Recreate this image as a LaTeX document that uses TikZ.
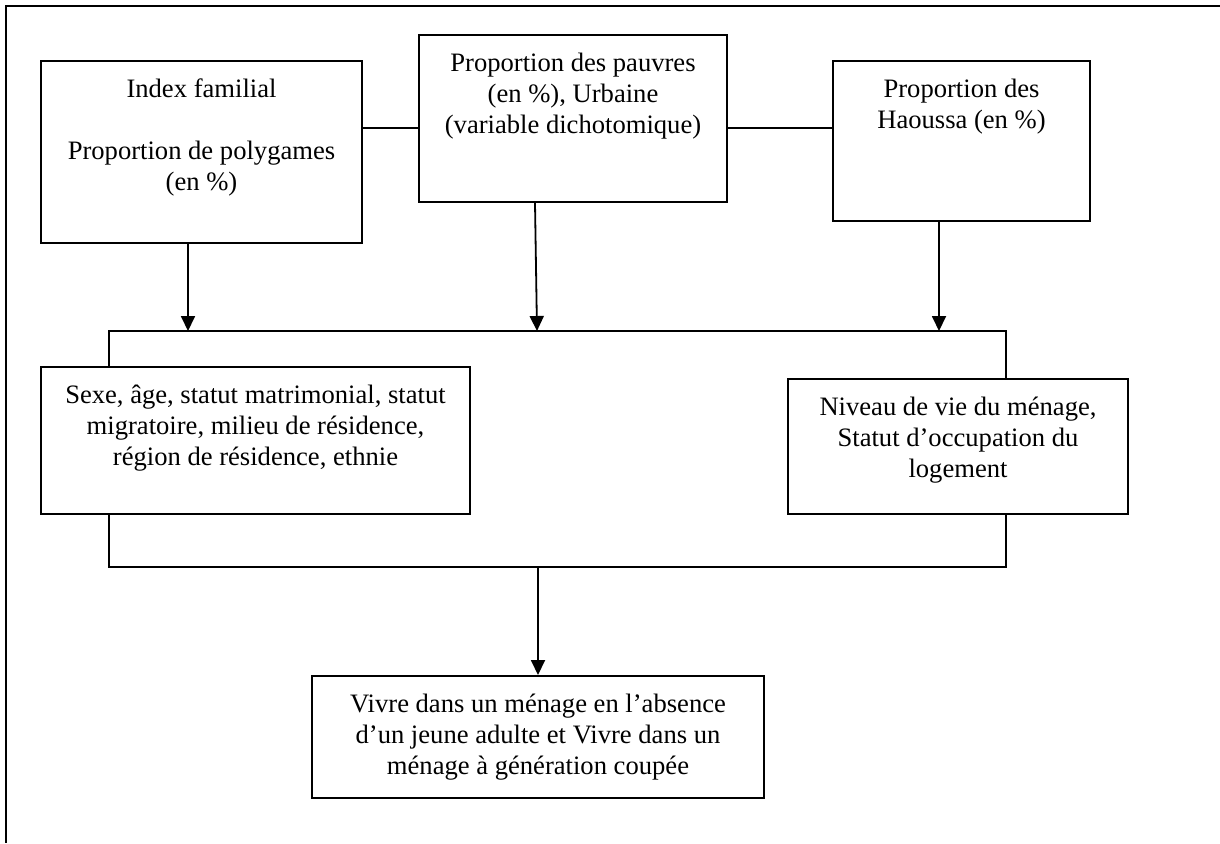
\documentclass[tikz,border=0pt]{standalone}
\usepackage{fontspec}
\setmainfont{Liberation Serif}
\usetikzlibrary{arrows.meta,positioning}
\newcommand{\contenu}[3]{\parbox[c][#2][t]{#1}{\centering\rule{0pt}{18pt}#3}}

\begin{document}
\begin{tikzpicture}[
        x=0.5pt, y=-0.5pt,
        boite/.style={draw, line width=1pt, fill=white, inner sep=0pt},
        lien/.style={line width=0.9pt},
        fleche/.style={lien, -{Triangle[length=7.5pt,width=7pt]}},
        font=\fontsize{13.3}{15.6}\selectfont
      ]
      \useasboundingbox (0,0) rectangle (1220,843);
      \coordinate (cadre-hd) at (1220,6);
      \coordinate (cadre-hg) at (6,6);
      \coordinate (cadre-bg) at (6,843);
      \draw[line width=1.4pt] (cadre-hd) -- (cadre-hg) -- (cadre-bg);

      \coordinate (crochet-no) at (109,331);
      \coordinate (crochet-se) at (1006,567);
      \coordinate (niveau-liens) at (0,128);
      \coordinate (pied-index) at (188,331);
      \coordinate (pied-pauvres) at (537,331);
      \coordinate (pied-haoussa) at (939,331);
      \draw[lien] (crochet-no) rectangle (crochet-se);

      \node[boite] (index) at (201.5,152)
        {\contenu{160.5pt}{91pt}{Index familial\\[15.6pt]Proportion de polygames\\(en \%)}};
      \node[boite] (pauvres) at (573,118.5)
        {\contenu{154pt}{83.5pt}{Proportion des pauvres\\(en \%), Urbaine\\(variable dichotomique)}};
      \node[boite] (haoussa) at (961.5,141)
        {\contenu{128.5pt}{80pt}{Proportion des\\Haoussa (en \%)}};
      \node[boite] (individu) at (255.5,440.5)
        {\contenu{214.5pt}{73.5pt}{Sexe, âge, statut matrimonial, statut\\migratoire, milieu de résidence,\\région de résidence, ethnie}};
      \node[boite] (menage) at (958,446.5)
        {\contenu{170pt}{67.5pt}{Niveau de vie du ménage,\\Statut d’occupation du\\logement}};
      \node[boite] (vivre) at (538,737)
        {\contenu{226pt}{61pt}{Vivre dans un ménage en l’absence\\d’un jeune adulte et Vivre dans un\\ménage à génération coupée}};

      \draw[lien] (index.east |- niveau-liens) -- (pauvres.west |- niveau-liens);
      \draw[lien] (pauvres.east |- niveau-liens) -- (haoussa.west |- niveau-liens);
      \draw[fleche] (index.south -| pied-index) -- (pied-index);
      \draw[fleche] ([xshift=-1pt]pauvres.south -| pied-pauvres) -- (pied-pauvres);
      \draw[fleche] (haoussa.south -| pied-haoussa) -- (pied-haoussa);
      \draw[fleche] (vivre.north |- crochet-se) -- (vivre.north);
      \end{tikzpicture}
\end{document}
